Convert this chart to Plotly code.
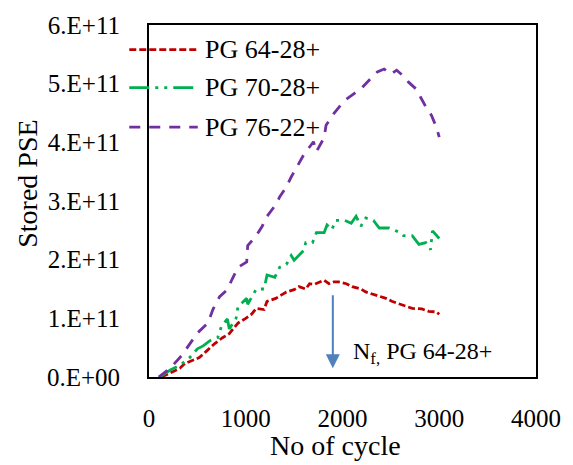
import plotly.graph_objects as go

# Stored pseudo strain energy (PSE) versus loading cycle for three binders
cycles_64 = [130, 240, 320, 370, 450, 520, 600, 680, 760, 830, 880, 920, 1000, 1060, 1110,
             1190, 1220, 1310, 1370, 1420, 1500, 1550, 1620, 1660, 1710, 1760, 1810, 1860,
             1910, 1960, 2040, 2100, 2190, 2240, 2300, 2380, 2450, 2510, 2580, 2650, 2720,
             2820, 2890, 2970, 3000]
pse_64 = [0.0, 0.9e10, 1.5e10, 2.3e10, 2.8e10, 3.3e10, 4.5e10, 5.7e10, 6.7e10, 7.4e10,
          8.4e10, 9.2e10, 1.00e11, 1.07e11, 1.17e11, 1.15e11, 1.29e11, 1.34e11, 1.40e11,
          1.45e11, 1.49e11, 1.54e11, 1.50e11, 1.59e11, 1.58e11, 1.62e11, 1.65e11, 1.59e11,
          1.62e11, 1.62e11, 1.59e11, 1.54e11, 1.50e11, 1.45e11, 1.42e11, 1.37e11, 1.34e11,
          1.29e11, 1.25e11, 1.22e11, 1.17e11, 1.16e11, 1.12e11, 1.11e11, 1.07e11]

cycles_70 = [110, 220, 320, 420, 500, 560, 630, 710, 750, 810, 830, 900, 920, 1010, 1020,
             1110, 1190, 1220, 1300, 1350, 1420, 1470, 1500, 1600, 1620, 1690, 1730, 1810,
             1840, 1890, 1930, 2020, 2090, 2140, 2190, 2240, 2320, 2380, 2480, 2530, 2600,
             2630, 2720, 2790, 2860, 2910, 2930, 3000]
pse_70 = [0.0, 1.2e10, 2.0e10, 3.3e10, 4.8e10, 5.3e10, 6.2e10, 6.7e10, 8.7e10, 9.9e10,
          8.2e10, 1.00e11, 1.20e11, 1.34e11, 1.24e11, 1.50e11, 1.50e11, 1.74e11, 1.70e11,
          1.87e11, 1.92e11, 2.07e11, 1.99e11, 2.16e11, 2.29e11, 2.29e11, 2.46e11, 2.46e11,
          2.59e11, 2.51e11, 2.67e11, 2.67e11, 2.62e11, 2.74e11, 2.57e11, 2.71e11, 2.67e11,
          2.54e11, 2.54e11, 2.51e11, 2.46e11, 2.41e11, 2.41e11, 2.26e11, 2.29e11, 2.17e11,
          2.49e11, 2.36e11]

cycles_76 = [100, 220, 340, 440, 500, 610, 660, 730, 810, 860, 920, 1010, 1020, 1110, 1170,
             1220, 1320, 1350, 1420, 1470, 1530, 1600, 1700, 1730, 1810, 1830, 1910, 2020,
             2120, 2200, 2270, 2360, 2430, 2500, 2560, 2630, 2680, 2760, 2810, 2870, 2920,
             2970, 3000]
pse_76 = [0.0, 1.5e10, 3.7e10, 6.2e10, 7.5e10, 9.2e10, 1.15e11, 1.37e11, 1.49e11, 1.67e11,
          1.87e11, 1.96e11, 2.24e11, 2.41e11, 2.57e11, 2.74e11, 2.96e11, 3.07e11, 3.24e11,
          3.41e11, 3.58e11, 3.79e11, 4.01e11, 3.84e11, 4.08e11, 4.29e11, 4.49e11, 4.71e11,
          4.83e11, 4.93e11, 5.05e11, 5.20e11, 5.25e11, 5.16e11, 5.23e11, 5.13e11, 5.03e11,
          4.91e11, 4.76e11, 4.58e11, 4.46e11, 4.26e11, 4.09e11]

series_names = ["PG 64-28+", "PG 70-28+", "PG 76-22+"]
series_colors = ["#C00000", "#00B050", "#7030A0"]
series_dash = ["7px,3px", "20px,6px,3px,6px,3px,6px", "11px,9px"]

x_ticks = [0, 1000, 2000, 3000, 4000]
y_ticks = [0, 1e11, 2e11, 3e11, 4e11, 5e11, 6e11]
y_tick_text = ["0.E+00", "1.E+11", "2.E+11", "3.E+11", "4.E+11", "5.E+11", "6.E+11"]

failure_cycle = 1900
failure_label = "N<sub>f,</sub> PG 64-28+"

FONT = "Liberation Serif"

fig = go.Figure()
all_x = [cycles_64, cycles_70, cycles_76]
all_y = [pse_64, pse_70, pse_76]
for xs, ys, name, col, dash in zip(all_x, all_y, series_names, series_colors, series_dash):
    fig.add_trace(go.Scatter(x=xs, y=ys, mode="lines", name=name, showlegend=False,
                             line=dict(color=col, width=2.8, dash=dash)))

# Legend drawn by hand: long line samples that cross the y axis
legend_rows = [0.930, 0.822, 0.710]
shapes = []
annotations = []
for yr, name, col, dash in zip(legend_rows, series_names, series_colors, series_dash):
    shapes.append(dict(type="line", xref="paper", yref="paper", x0=-0.051, x1=0.126,
                       y0=yr, y1=yr, line=dict(color=col, width=2.8, dash=dash)))
    annotations.append(dict(xref="paper", yref="paper", x=0.140, y=yr, text=name,
                            showarrow=False, xanchor="left", yanchor="middle",
                            font=dict(family=FONT, size=26, color="black")))

# Failure point marker
annotations.append(dict(x=failure_cycle, y=1.5e10, ax=failure_cycle, ay=1.42e11,
                        xref="x", yref="y", axref="x", ayref="y", text="",
                        showarrow=True, arrowhead=2, arrowsize=1.4, arrowwidth=2,
                        arrowcolor="#4F81BD"))
annotations.append(dict(x=2090, y=4.1e10, xref="x", yref="y", text=failure_label,
                        showarrow=False, xanchor="left", yanchor="middle",
                        font=dict(family=FONT, size=24, color="black")))

# Axis titles
annotations.append(dict(xref="paper", yref="paper", x=(337 - 149) / 390, y=-0.196,
                        text="No of cycle", showarrow=False, xanchor="center",
                        yanchor="middle", font=dict(family=FONT, size=28, color="black")))
annotations.append(dict(xref="paper", yref="paper", x=(27 - 149) / 390, y=(377 - 180) / 359,
                        text="Stored PSE", textangle=-90, showarrow=False,
                        xanchor="center", yanchor="middle",
                        font=dict(family=FONT, size=28, color="black")))

fig.update_layout(
    width=573, height=465,
    margin=dict(l=149, r=34, t=18, b=88),
    paper_bgcolor="white", plot_bgcolor="white",
    font=dict(family=FONT, size=25, color="black"),
    shapes=shapes, annotations=annotations,
    showlegend=False,
)
fig.update_xaxes(range=[0, 4000], tickvals=x_ticks, showgrid=False, zeroline=False,
                 showline=True, linecolor="black", linewidth=2, mirror=True,
                 ticks="", ticklabelstandoff=18, tickfont=dict(family=FONT, size=25))
fig.update_yaxes(range=[0, 6e11], tickvals=y_ticks, ticktext=y_tick_text, showgrid=False,
                 zeroline=False, showline=True, linecolor="black", linewidth=2, mirror=True,
                 ticks="", ticklabelstandoff=22, tickfont=dict(family=FONT, size=25))

fig.write_html("out.html")
